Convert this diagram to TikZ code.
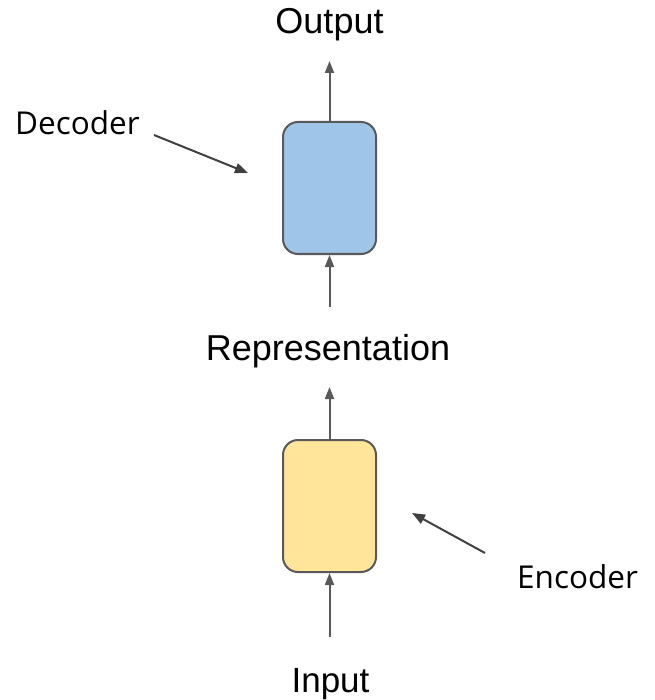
\documentclass[tikz,border=0pt]{standalone}
\usepackage{fontspec}
\setmainfont{Liberation Sans}
\newfontfamily\labelfont{Open Sans}
\usetikzlibrary{arrows.meta}

\definecolor{edgegray}{HTML}{595959}
\definecolor{pointergray}{HTML}{404040}
\definecolor{decblue}{HTML}{9FC5E8}
\definecolor{encyellow}{HTML}{FFE599}

\tikzset{
  block/.style={draw=edgegray, line width=2pt, rounded corners=15pt,
    minimum width=93pt, minimum height=132pt, inner sep=0pt},
  flow/.style={draw=edgegray, line width=2pt,
    -{Triangle[length=12pt,width=9pt]}},
  pointer/.style={draw=pointergray, line width=2pt,
    -{Triangle[length=13pt,width=10pt]}},
  bigtext/.style={anchor=base, inner sep=0pt, text=black,
    font=\fontsize{36}{43}\selectfont},
  sidetext/.style={anchor=base west, inner sep=0pt, text=black,
    font=\labelfont\fontsize{31.5}{38}\selectfont},
}

\begin{document}
\begin{tikzpicture}[x=1pt, y=-1pt]
  \useasboundingbox (0,0) rectangle (654,700);

  % encoder / decoder blocks
  \node[block, fill=decblue]   (dec) at (329.5,188) {};
  \node[block, fill=encyellow] (enc) at (329.5,506) {};

  % captions along the data flow
  \node[bigtext] (out) at (329.5,34) {Output};
  \node[bigtext] (rep) at (328,360) {Representation};
  \node[bigtext, font=\fontsize{35}{42}\selectfont] (inp) at (330.5,692) {Input};

  % side labels
  \node[sidetext] (declab) at (15,135) {Decoder};
  \node[sidetext] (enclab) at (517,588) {Encoder};

  % arrow end points
  \coordinate (outtip) at (329.5,61);
  \coordinate (dectail) at (329.5,307);
  \coordinate (reptip) at (329.5,387);
  \coordinate (enctail) at (329.5,637);
  \coordinate (decptail) at (154,135);
  \coordinate (decptip) at (248,173);
  \coordinate (encptail) at (485,553);
  \coordinate (encptip) at (412,513);

  % data flow arrows
  \draw[flow] (enctail) -- (enc.south);
  \draw[flow] (enc.north) -- (reptip);
  \draw[flow] (dectail) -- (dec.south);
  \draw[flow] (dec.north) -- (outtip);

  % label pointers
  \draw[pointer] (decptail) -- (decptip);
  \draw[pointer] (encptail) -- (encptip);
\end{tikzpicture}
\end{document}
